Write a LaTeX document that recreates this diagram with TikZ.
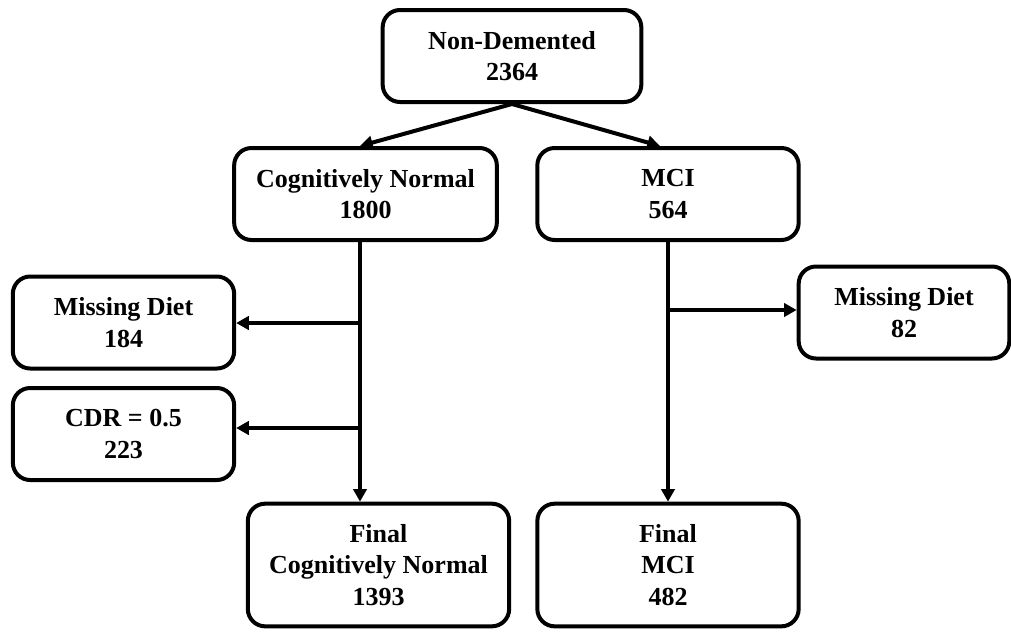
\documentclass[tikz,border=0pt]{standalone}
\usepackage{fontspec}
\setmainfont{Liberation Serif}
\usepackage{tikz}
\usetikzlibrary{positioning, arrows.meta, calc}

\begin{document}
\begin{tikzpicture}[x=0.75pt, y=-0.75pt, line width=3pt,
           >={Triangle[length=9.5pt, width=10pt]},
           box/.style={draw, rounded corners=13pt, align=center, inner sep=2pt,
                       font=\fontsize{19.5}{23.5}\selectfont\bfseries,
                       minimum height=69pt}]
           \useasboundingbox (0,0) rectangle (1011,633);
           \node[box, minimum width=194pt] (nd) at (512,56) {Non-Demented\\2364};
           \node[box, minimum width=197pt] (cn) at (365.5,194) {Cognitively Normal\\1800};
           \node[box, minimum width=196pt] (mci) at (668,194) {MCI\\564};
           \node[box, minimum width=166pt] (md1) at (123.5,322.5) {Missing Diet\\184};
           \node[box, minimum width=166pt] (cdr) at (123.5,434) {CDR = 0.5\\223};
           \node[box, minimum width=158pt] (md2) at (904,312.5) {Missing Diet\\82};
           \node[box, minimum width=196pt, minimum height=92pt] (fcn) at (378.5,565) {Final\\Cognitively Normal\\1393};
           \node[box, minimum width=196pt, minimum height=92pt] (fmci) at (668,565) {Final\\MCI\\482};
           \coordinate (cnx) at (360,0);
           \coordinate (mcix) at (660,0);
           \coordinate (cut1) at (360,323);
           \coordinate (cut2) at (360,428);
           \coordinate (cut3) at (668,310);
            \path[->]
            (nd.south) edge (cn.north -| cnx)
            (nd.south) edge (mci.north -| mcix)
            (cn.south -| cnx) edge (fcn.north -| cnx)
            (cut1) edge (md1.east |- cut1)
            (cut2) edge (cdr.east |- cut2)
            (mci.south) edge (fmci.north)
            (cut3) edge (md2.west |- cut3);
        \end{tikzpicture}
\end{document}
